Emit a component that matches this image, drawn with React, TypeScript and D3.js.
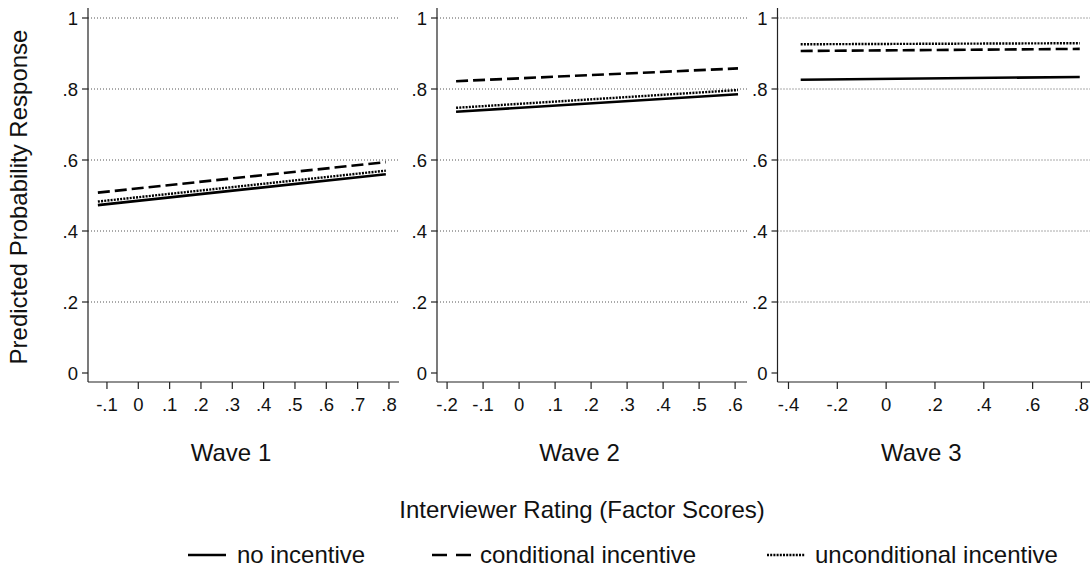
import React from "react";
import * as d3 from "d3";

const waves = ["Wave 1", "Wave 2", "Wave 3"];
const xDomains: [number, number][] = [[-0.1605, 0.832], [-0.228, 0.633], [-0.445, 0.835]];
const xTicks: number[][] = [
  [-0.1, 0, 0.1, 0.2, 0.3, 0.4, 0.5, 0.6, 0.7, 0.8],
  [-0.2, -0.1, 0, 0.1, 0.2, 0.3, 0.4, 0.5, 0.6],
  [-0.4, -0.2, 0, 0.2, 0.4, 0.6, 0.8],
];
const xRangeLines: [number, number][] = [[-0.129, 0.79], [-0.175, 0.608], [-0.35, 0.793]];
const noIncentive: [number, number][] = [[0.473, 0.56], [0.736, 0.785], [0.826, 0.834]];
const conditional: [number, number][] = [[0.508, 0.594], [0.822, 0.858], [0.907, 0.913]];
const unconditional: [number, number][] = [[0.483, 0.57], [0.747, 0.797], [0.926, 0.929]];
const yTicks = [0, 0.2, 0.4, 0.6, 0.8, 1];
const seriesNames = ["no incentive", "conditional incentive", "unconditional incentive"];

const panelX: [number, number][] = [[88, 399], [437, 747], [777.5, 1090]];
const FONT = "'Liberation Sans', Arial, sans-serif";

const fmt = (v: number) => {
  if (Math.abs(v) < 1e-9) return "0";
  if (v === 1) return "1";
  const s = d3.format(".1f")(v).replace("\u2212", "-");
  return s.replace(/^(-?)0\./, "$1.");
};

const styles = [
  { dash: "none", width: 2.6 },
  { dash: "12,5", width: 2.6 },
  { dash: "2,1.2", width: 2.4 },
];

const legendKeys: [number, number, number, string][] = [
  [188, 226, 237, "none"],
  [432, 471, 480, "15,9"],
  [767, 805, 815, "2,1.2"],
];

export default function App() {
  const y = d3.scaleLinear().domain([0, 1]).range([373, 18]);
  const data = [noIncentive, conditional, unconditional];
  return (
    <svg width={1092} height={569} style={{ position: "absolute", left: 0, top: 0, background: "#fff" }} fontFamily={FONT}>
      <rect width={1092} height={569} fill="#fff" />
      {waves.map((w, i) => {
        const [x0, x1] = panelX[i];
        const x = d3.scaleLinear().domain(xDomains[i]).range([x0, x1]);
        const line = d3.line<[number, number]>().x((d) => x(d[0])).y((d) => y(d[1]));
        return (
          <g key={w}>
            {yTicks.filter((t) => t > 0).map((t) => (
              <line key={t} x1={x0} x2={x1} y1={y(t)} y2={y(t)} stroke="#555" strokeWidth={1} strokeDasharray="1,2" />
            ))}
            <line x1={x0} x2={x0} y1={8} y2={382} stroke="#222" strokeWidth={1.2} />
            <line x1={x0} x2={x1} y1={382} y2={382} stroke="#222" strokeWidth={1.2} />
            {yTicks.map((t) => (
              <g key={t}>
                <line x1={x0 - 6} x2={x0} y1={y(t)} y2={y(t)} stroke="#222" strokeWidth={1.2} />
                <text x={x0 - 10} y={y(t)} dy="0.36em" textAnchor="end" fontSize={18.5} fill="#111">{fmt(t)}</text>
              </g>
            ))}
            {xTicks[i].map((t) => (
              <g key={t}>
                <line x1={x(t)} x2={x(t)} y1={382} y2={389} stroke="#222" strokeWidth={1.2} />
                <text x={x(t)} y={411} textAnchor="middle" fontSize={18.5} fill="#111">{fmt(t)}</text>
              </g>
            ))}
            <text x={(x0 - 25 + x1) / 2} y={461} textAnchor="middle" fontSize={24} fill="#111">{w}</text>
            {data.map((s, k) => {
              const pts: [number, number][] = [
                [xRangeLines[i][0], s[i][0]],
                [xRangeLines[i][1], s[i][1]],
              ];
              return (
                <path key={k} d={line(pts) || ""} fill="none" stroke="#000" strokeWidth={styles[k].width} strokeDasharray={styles[k].dash} />
              );
            })}
          </g>
        );
      })}
      <text transform="translate(27,197) rotate(-90)" textAnchor="middle" fontSize={24} fill="#111">Predicted Probability Response</text>
      <text x={582} y={518} textAnchor="middle" fontSize={24} fill="#111">Interviewer Rating (Factor Scores)</text>
      {seriesNames.map((n, k) => {
        const [a, b, tx, dash] = legendKeys[k];
        return (
          <g key={n}>
            <line x1={a} x2={b} y1={555} y2={555} stroke="#000" strokeWidth={styles[k].width} strokeDasharray={dash} />
            <text x={tx} y={563} fontSize={24} fill="#111">{n}</text>
          </g>
        );
      })}
    </svg>
  );
}
